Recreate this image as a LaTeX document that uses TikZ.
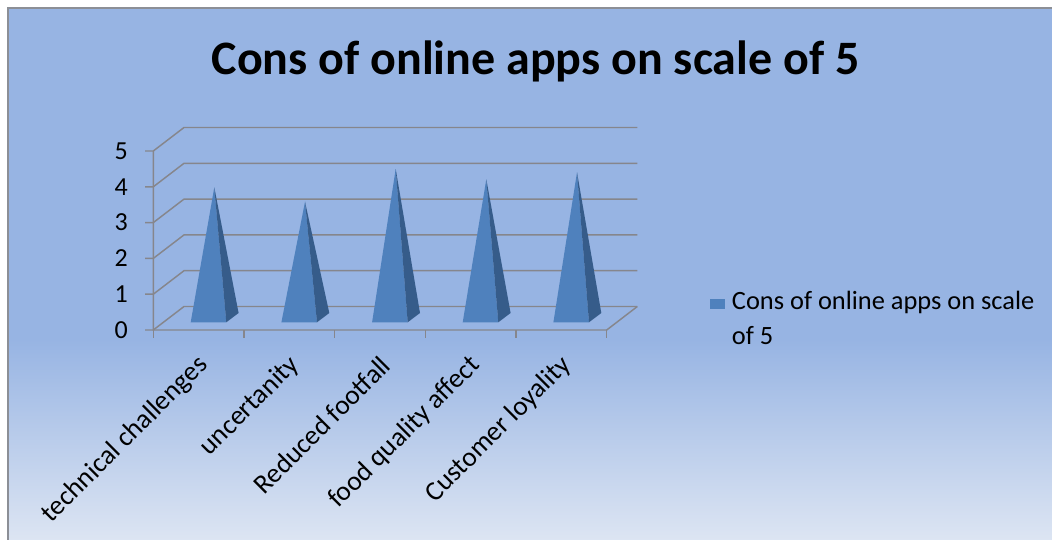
\documentclass[tikz,border=0pt]{standalone}
\usepackage{fontspec}
\setmainfont{Carlito}
\usetikzlibrary{positioning}
\definecolor{chartbg}{RGB}{151,180,227}
\definecolor{chartlow}{RGB}{222,230,243}
\definecolor{gridgray}{RGB}{134,134,140}
\definecolor{framegray}{RGB}{140,143,150}
\definecolor{barfront}{RGB}{79,129,189}
\definecolor{barside}{RGB}{54,92,138}

\begin{document}
\begin{tikzpicture}[x=0.75pt,y=-0.75pt,
    gridline/.style={draw=gridgray, line width=1.1pt},
    ylab/.style={anchor=east, inner sep=0pt, font=\fontsize{19.5}{23}\selectfont},
    catlab/.style={anchor=east, inner sep=0pt, rotate=45, font=\fontsize{20.5}{24}\selectfont},
    keybox/.style={fill=barfront, minimum width=11pt, minimum height=8pt, inner sep=0pt},
    keytext/.style={anchor=north west, inner sep=0pt, align=left, font=\fontsize{19.8}{26.3}\selectfont}
]
    \useasboundingbox (0,0) rectangle (1052,539);
    \clip (0,0) rectangle (1052,539);
    \fill[white] (0,0) rectangle (1052,539);

    % chart area: flat blue, fading lighter towards the bottom
    \fill[chartbg] (8,8) rectangle (1060,340);
    \shade[top color=chartbg, bottom color=chartlow] (8,339) rectangle (1060,545);
    \draw[framegray, line width=1pt] (8,8) rectangle (1060,560);

    \node[font=\fontsize{36}{43}\selectfont\bfseries] (title) at (535.5,61) {Cons of online apps on scale of 5};

    % side wall and back wall lines
    \foreach \v in {0,...,5} {
        \draw[gridline] (145,330-35.8*\v) -- (153.3,330-35.8*\v) -- (184,306.5-35.8*\v) -- (637.3,306.5-35.8*\v);
        \node[ylab] (y\v) at (128,330-35.8*\v) {\v};
    }
    \draw[gridline] (153.3,151) -- (153.3,330) -- (606.7,330) -- (637.3,306.5);
    \foreach \t in {153.3,244,334.7,425.3,516,606.7}
        \draw[gridline] (\t,330) -- (\t,338);

    % pyramids
    \foreach \t/\ay in {153.3/187.3, 244/201.7, 334.7/169, 425.3/179.3, 516/172.3} {
        \fill[barfront] (\t+37.4,322.3) -- (\t+73,322.3) -- (\t+61,\ay) -- cycle;
        \fill[barside] (\t+73,322.3) -- (\t+85.3,313) -- (\t+61,\ay) -- cycle;
    }

    % category names
    \node[catlab] (cat1) at (204,361) {technical challenges};
    \node[catlab] (cat2) at (295,361) {uncertanity};
    \node[catlab] (cat3) at (386,361) {Reduced footfall};
    \node[catlab] (cat4) at (476,361) {food quality affect};
    \node[catlab] (cat5) at (567,361) {Customer loyality};

    % legend
    \node[keytext] (keytext) at (731.7,291) {Cons of online apps on scale\\of 5};
    \node[keybox] (key) at (717.5,304) {};
\end{tikzpicture}
\end{document}
